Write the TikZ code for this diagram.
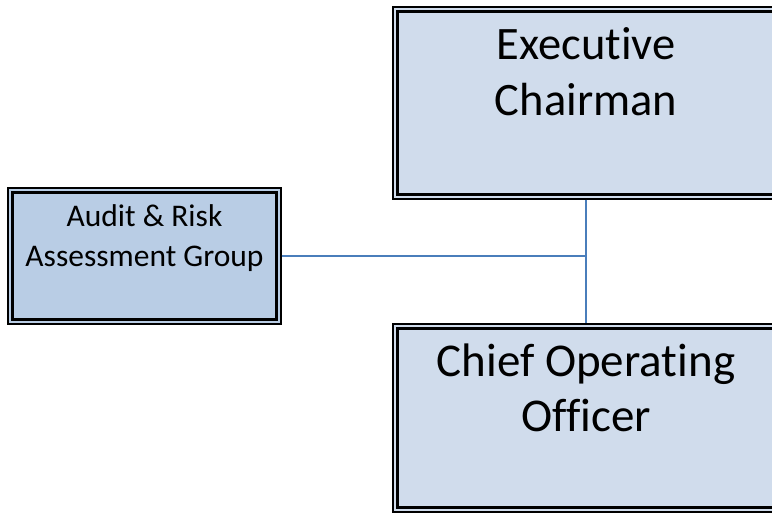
\documentclass[tikz,border=0pt]{standalone}
\usepackage{fontspec}
\setmainfont{Carlito}[Ligatures=NoCommon]
\usepackage{tikz}
\usetikzlibrary{positioning, calc}
\definecolor{boxpale}{HTML}{D0DCEC}
\definecolor{boxdeep}{HTML}{B9CDE5}
\definecolor{linkblue}{HTML}{4A7EBB}
\tikzset{orgbox/.style={draw=black, line width=1.1pt, rectangle, inner sep=0pt}}

\begin{document}
\begin{tikzpicture}[x=1pt, y=-1pt, link/.style={draw=linkblue, line width=2pt},
        inner/.style={draw=black, line width=2.4pt}]
                \useasboundingbox (0, 0) rectangle (772, 514);
                \clip (0, 0) rectangle (772, 514);
                % the three posts
                \node[orgbox, fill=boxpale, minimum width=386, minimum height=192] (exec) at (586, 103) {};
                \node[orgbox, fill=boxdeep, minimum width=273, minimum height=136] (audit) at (144.5, 256) {};
                \node[orgbox, fill=boxpale, minimum width=386, minimum height=188] (coo) at (586, 418) {};
                \foreach \n in {exec, audit, coo}
                    \draw[inner] ([shift={(5, 5)}]\n.north west) rectangle ([shift={(-5, -5)}]\n.south east);
                % names (base = last line)
                \node[anchor=base, align=center, font=\fontsize{46.5}{55.7}\selectfont] (exectxt) at (586, 115) {Executive\\Chairman};
                \node[anchor=base, align=center, font=\fontsize{31.5}{40}\selectfont] (audittxt) at (144.5, 266.7) {Audit \& Risk\\Assessment Group};
                \node[anchor=base, align=center, font=\fontsize{47}{55}\selectfont] (cootxt) at (586, 431.7) {Chief Operating\\Officer};
                % reporting lines
                \draw[link] (exec.south) -- (coo.north);
                \draw[link] (audit.east) -- (audit.east -| exec.south);
            \end{tikzpicture}
\end{document}
